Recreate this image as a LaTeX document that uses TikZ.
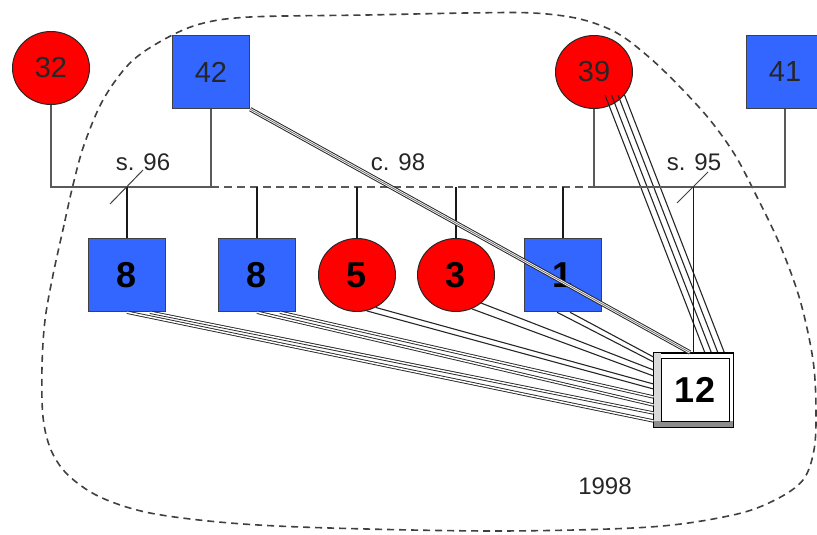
\documentclass[tikz,border=0pt]{standalone}
\usepackage{fontspec}
\setmainfont{Liberation Sans}
\usetikzlibrary{shapes.geometric}
\definecolor{gblue}{RGB}{51,102,255}
\definecolor{gred}{RGB}{255,0,0}
\begin{document}
\begin{tikzpicture}[x=1pt,y=-1pt,
  malebox/.style={draw=black!75, line width=1.5pt, fill=gblue, minimum width=77pt, minimum height=73pt, inner sep=0pt},
  femalebox/.style={ellipse, draw=black!85, line width=1pt, fill=gred, minimum width=77pt, minimum height=73pt, inner sep=0pt},
  parenttxt/.style={font=\fontsize{29}{29}\selectfont, text=black!85},
  childtxt/.style={font=\fontsize{36}{36}\selectfont\bfseries, text=black},
  kin/.style={draw=black!65, line width=2pt},
  cohab/.style={draw=black!65, line width=2pt, dash pattern=on 8pt off 5pt},
  drop/.style={draw=black!90, line width=1.4pt},
  dbl/.style={draw=black!85, double=white, double distance=1.5pt, line width=0.9pt},
  sgl/.style={draw=black!85, line width=1.1pt},
  slashmark/.style={draw=black!75, line width=1pt},
  lbl/.style={font=\fontsize{24}{24}\selectfont, text=black!85},
  bound/.style={draw=black!75, line width=1.6pt, dash pattern=on 7pt off 5pt}
]
\useasboundingbox (0,0) rectangle (817,535);
\clip (0,0) rectangle (817,535);

% boundary of household
\draw[bound] plot[smooth cycle, tension=0.55] coordinates {
 (73,185) (64,225) (53,275) (45,320) (42,367) (43,417) (51,450) (68,475)
 (100,497) (150,513) (230,523) (330,528) (500,531) (650,527) (733,515)
 (775,500) (803,480) (814,450) (816,410) (813,360) (800,300) (780,245)
 (756,195) (735,155) (710,120) (681,88) (650,58) (617,33) (580,19)
 (533,13) (467,13) (367,15) (250,17) (200,24) (163,40) (130,63)
 (103,100) (84,145)};

% nodes
\node[femalebox, parenttxt] (n32) at (51,68) {32};
\node[malebox, parenttxt] (n42) at (211,72) {42};
\node[femalebox, parenttxt] (n39) at (594,72) {39};
\node[malebox, parenttxt] (n41) at (785,72) {41};

\coordinate (u1) at (51,187);
\coordinate (u2) at (211,187);
\coordinate (u3) at (594,187);
\coordinate (u4) at (785,187);

% connectors drawn beneath nodes
\foreach \dx in {11,17.5,24,30.5}{
  \draw[sgl] ([shift={(\dx,23)}]n39.center) -- ([shift={(\dx+100,0)}]n39.center |- 0,353);
}

\node[malebox, childtxt] (n8a) at (127,275) {8};
\node[malebox, childtxt] (n8b) at (257,275) {8};
\node[femalebox, childtxt] (n5) at (357,275) {5};
\node[femalebox, childtxt] (n3) at (456,275) {3};
\node[malebox, childtxt] (n1) at (563,275) {1};

% pedigree lines
\draw[kin] (n32.south) -- (u1) -- (u2) -- (n42.south);
\draw[cohab] (u2) -- (u3);
\draw[kin] (n39.south) -- (u3) -- (u4) -- (n41.south);

% index person 12
\node[draw=black, line width=1pt, fill=white, minimum width=79pt, minimum height=74pt, inner sep=0pt] (n12) at (693.5,390) {};
\fill[black!15] (654,353) rectangle (661,427);
\fill[black!45] (654,421) rectangle (733,427);
\node[draw=black, line width=1pt, fill=white, minimum width=68pt, minimum height=63pt, inner sep=0pt, childtxt] (n12in) at (695,389.5) {12};
\draw[line width=1pt] (n12.north west) rectangle (n12.south east);

% child drops
\draw[drop] (n8a.north |- u1) -- (n8a.north);
\draw[drop] (n8b.north |- u1) -- (n8b.north);
\draw[drop] (n5.north |- u1) -- (n5.north);
\draw[drop] (n3.north |- u1) -- (n3.north);
\draw[drop] (n1.north |- u1) -- (n1.north);
\draw[drop, line width=1.2pt] (n12.north |- u1) -- (n12.north);

% children to 12
\draw[dbl] (n8a.south) -- ([shift={(0,31)}]n12.west);
\draw[dbl] ([shift={(23,0)}]n8a.south) -- ([shift={(0,23)}]n12.west);
\draw[dbl] (n8b.south) -- ([shift={(0,15)}]n12.west);
\draw[dbl] ([shift={(23,0)}]n8b.south) -- ([shift={(0,7)}]n12.west);
\draw[sgl] (n5.-75) -- ([shift={(0,-1)}]n12.west);
\draw[sgl] (n5.-60) -- ([shift={(0,-6)}]n12.west);
\draw[sgl] (n3.-65) -- ([shift={(0,-14)}]n12.west);
\draw[sgl] (n3.-48) -- ([shift={(0,-20)}]n12.west);
\draw[sgl] ([shift={(-6,0)}]n1.south) -- ([shift={(0,-28)}]n12.west);
\draw[sgl] ([shift={(7,0)}]n1.south) -- ([shift={(0,-33)}]n12.west);

% 42 to 12 (on top)
\draw[line width=4.4pt, black!85] (n42.south east) -- ([shift={(-3.5,0)}]n12.north);
\draw[line width=2.4pt, white] (n42.south east) -- ([shift={(-3.5,0)}]n12.north);
\draw[line width=0.8pt, black!55] (n42.south east) -- ([shift={(-3.5,0)}]n12.north);

% separation marks and labels
\draw[slashmark] (143,170) -- (110,204);
\draw[slashmark] (708,172) -- (677,203);
\node[lbl] (l96) at (143,162) {s. 96};
\node[lbl] (l98) at (398,162) {c. 98};
\node[lbl] (l95) at (694,162) {s. 95};
\node[lbl] (lyr) at (605,486) {1998};
\end{tikzpicture}
\end{document}
